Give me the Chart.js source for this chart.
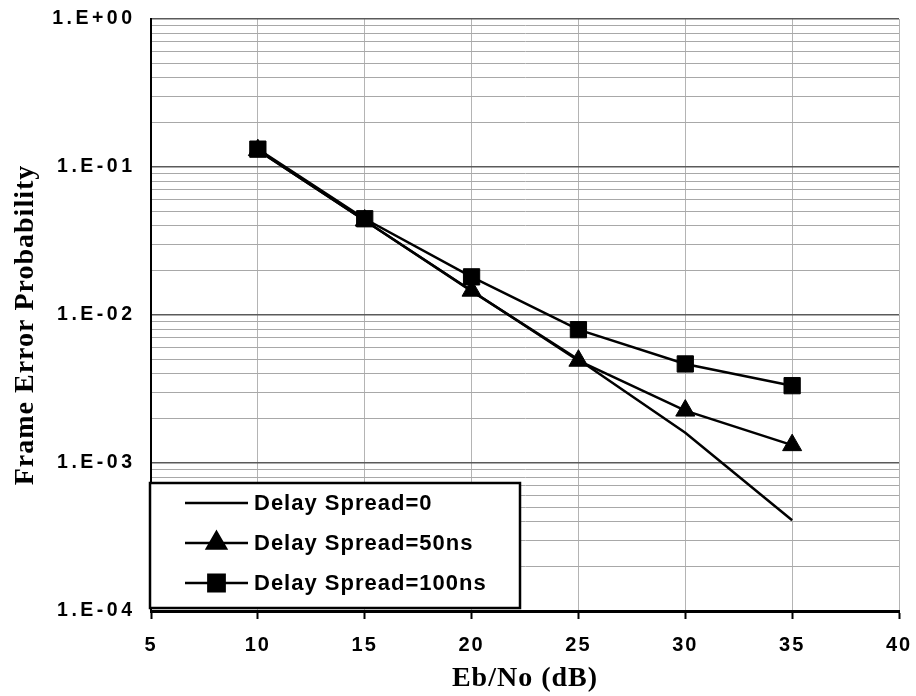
<!DOCTYPE html>
<html>
<head>
<meta charset="utf-8">
<script src="https://cdn.jsdelivr.net/npm/chart.js@4/dist/chart.umd.min.js"></script>
<style>
  html, body { margin: 0; padding: 0; background: #fff; }
  #wrap { width: 916px; height: 696px; position: relative; }
</style>
</head>
<body>
<div id="wrap"><canvas id="c" width="916" height="696"></canvas></div>
<script>
// ---- data ----
const ebNo = [10, 15, 20, 25, 30, 35];
const fepDelay0 = [0.13, 0.0435, 0.0145, 0.0050, 0.0016, 0.00041];
const fepDelay50 = [0.13, 0.0435, 0.0146, 0.00491, 0.00226, 0.00132];
const fepDelay100 = [0.132, 0.0447, 0.0181, 0.00796, 0.00467, 0.00333];
const seriesLabels = ['Delay Spread=0', 'Delay Spread=50ns', 'Delay Spread=100ns'];
const xTickValues = [5, 10, 15, 20, 25, 30, 35, 40];
const yDecadeValues = [1e-4, 1e-3, 1e-2, 1e-1, 1];
const yTickLabels = ['1.E-04', '1.E-03', '1.E-02', '1.E-01', '1.E+00'];
const xTitle = 'Eb/No (dB)';
const yTitle = 'Frame Error Probability';

function isDecade(v) {
  const l = Math.log10(v);
  return Math.abs(l - Math.round(l)) < 1e-9;
}
function decadeLabel(v) {
  for (let i = 0; i < yDecadeValues.length; i++) {
    if (Math.abs(Math.log10(v) - Math.log10(yDecadeValues[i])) < 1e-9) return yTickLabels[i];
  }
  return '';
}
function withSpacing(scale, spacing) {
  if (scale._spacingWrapped) return;
  const orig = scale.drawLabels;
  scale.drawLabels = function (area) {
    this.ctx.save();
    this.ctx.letterSpacing = spacing;
    orig.call(this, area);
    this.ctx.restore();
  };
  scale._spacingWrapped = true;
}

const spacingPlugin = {
  id: 'spacing',
  beforeUpdate(chart) { chart.ctx.letterSpacing = '2px'; },
  beforeDraw(chart) { chart.ctx.letterSpacing = '2px'; }
};

const titlesAndLegend = {
  id: 'titlesAndLegend',
  afterDraw(chart) {
    const ctx = chart.ctx;
    ctx.save();
    // axis titles
    ctx.fillStyle = '#000';
    ctx.letterSpacing = '1px';
    ctx.font = 'bold 28px "Liberation Serif", "Times New Roman", serif';
    ctx.textAlign = 'center';
    ctx.textBaseline = 'alphabetic';
    ctx.fillText(xTitle, 525, 686);
    ctx.save();
    ctx.translate(33, 325);
    ctx.rotate(-Math.PI / 2);
    ctx.fillText(yTitle, 0, 0);
    ctx.restore();

    // legend box
    const bx = 150, by = 483, bw = 370, bh = 125;
    ctx.fillStyle = '#fff';
    ctx.fillRect(bx, by, bw, bh);
    ctx.lineWidth = 2.5;
    ctx.strokeStyle = '#000';
    ctx.strokeRect(bx, by, bw, bh);

    const rows = [503, 543, 583];
    chart.data.datasets.forEach((ds, i) => {
      const y = rows[i];
      ctx.strokeStyle = '#000';
      ctx.lineWidth = ds.borderWidth;
      ctx.beginPath();
      ctx.moveTo(185, y);
      ctx.lineTo(248, y);
      ctx.stroke();
      if (ds.pointRadius > 0) {
        ctx.fillStyle = '#000';
        ctx.strokeStyle = '#000';
        Chart.helpers.drawPoint(ctx, {
          pointStyle: ds.pointStyle, rotation: 0,
          radius: ds.pointRadius, borderWidth: ds.pointBorderWidth
        }, 216.5, y);
      }
      ctx.fillStyle = '#000';
      ctx.letterSpacing = '1px';
      ctx.font = 'bold 22px "Liberation Sans", Arial, sans-serif';
      ctx.textAlign = 'left';
      ctx.textBaseline = 'middle';
      ctx.fillText(ds.label, 254, y + 1);
    });
    ctx.restore();
  }
};

const ctx = document.getElementById('c').getContext('2d');
new Chart(ctx, {
  type: 'line',
  data: {
    datasets: [
      {
        label: seriesLabels[0],
        data: ebNo.map((x, i) => ({ x, y: fepDelay0[i] })),
        borderColor: '#000', backgroundColor: '#000',
        borderWidth: 2.5, pointRadius: 0, pointBorderWidth: 0, tension: 0
      },
      {
        label: seriesLabels[1],
        data: ebNo.map((x, i) => ({ x, y: fepDelay50[i] })),
        borderColor: '#000', backgroundColor: '#000',
        borderWidth: 2.5, pointStyle: 'triangle', pointRadius: 11,
        pointBorderWidth: 1, pointBackgroundColor: '#000', pointBorderColor: '#000', tension: 0
      },
      {
        label: seriesLabels[2],
        data: ebNo.map((x, i) => ({ x, y: fepDelay100[i] })),
        borderColor: '#000', backgroundColor: '#000',
        borderWidth: 2.5, pointStyle: 'rect', pointRadius: 11.5,
        pointBorderWidth: 1, pointBackgroundColor: '#000', pointBorderColor: '#000', tension: 0
      }
    ]
  },
  options: {
    responsive: false,
    animation: false,
    devicePixelRatio: 1,
    layout: { padding: { left: 0, right: 17, top: 19, bottom: 0 } },
    plugins: { legend: { display: false }, tooltip: { enabled: false } },
    scales: {
      x: {
        type: 'linear',
        min: 5, max: 40,
        afterBuildTicks(scale) { scale.ticks = xTickValues.map(v => ({ value: v })); },
        afterFit(scale) { scale.height = 85; scale.paddingLeft = 0; scale.paddingRight = 0; },
        ticks: {
          color: '#000',
          font: { family: '"Liberation Sans", Arial, sans-serif', size: 20, weight: 'bold' },
          padding: 14,
          maxRotation: 0,
          autoSkip: false
        },
        grid: {
          color: '#b4b4b4', lineWidth: 1,
          drawTicks: true, tickLength: 8, tickColor: '#000', tickWidth: 2
        },
        border: { color: '#000', width: 3 }
      },
      y: {
        type: 'logarithmic',
        min: 1e-4, max: 1,
        afterBuildTicks(scale) {
          const t = [];
          for (let e = -4; e < 0; e++) {
            for (let m = 1; m <= 9; m++) t.push({ value: m * Math.pow(10, e) });
          }
          t.push({ value: 1 });
          scale.ticks = t;
        },
        afterFit(scale) {
          scale.width = 151; scale.paddingTop = 0; scale.paddingBottom = 0;
          withSpacing(scale, '3.5px');
        },
        ticks: {
          color: '#000',
          font: { family: '"Liberation Sans", Arial, sans-serif', size: 19.5, weight: 'bold' },
          padding: 15.5,
          autoSkip: false,
          callback: (v) => decadeLabel(v)
        },
        grid: {
          drawTicks: false,
          color: (c) => (c.tick && isDecade(c.tick.value)) ? '#5a5a5a' : '#a8a8a8',
          lineWidth: (c) => (c.tick && isDecade(c.tick.value)) ? 1.5 : 1
        },
        border: { color: '#000', width: 2 }
      }
    }
  },
  plugins: [spacingPlugin, titlesAndLegend]
});
</script>
</body>
</html>
